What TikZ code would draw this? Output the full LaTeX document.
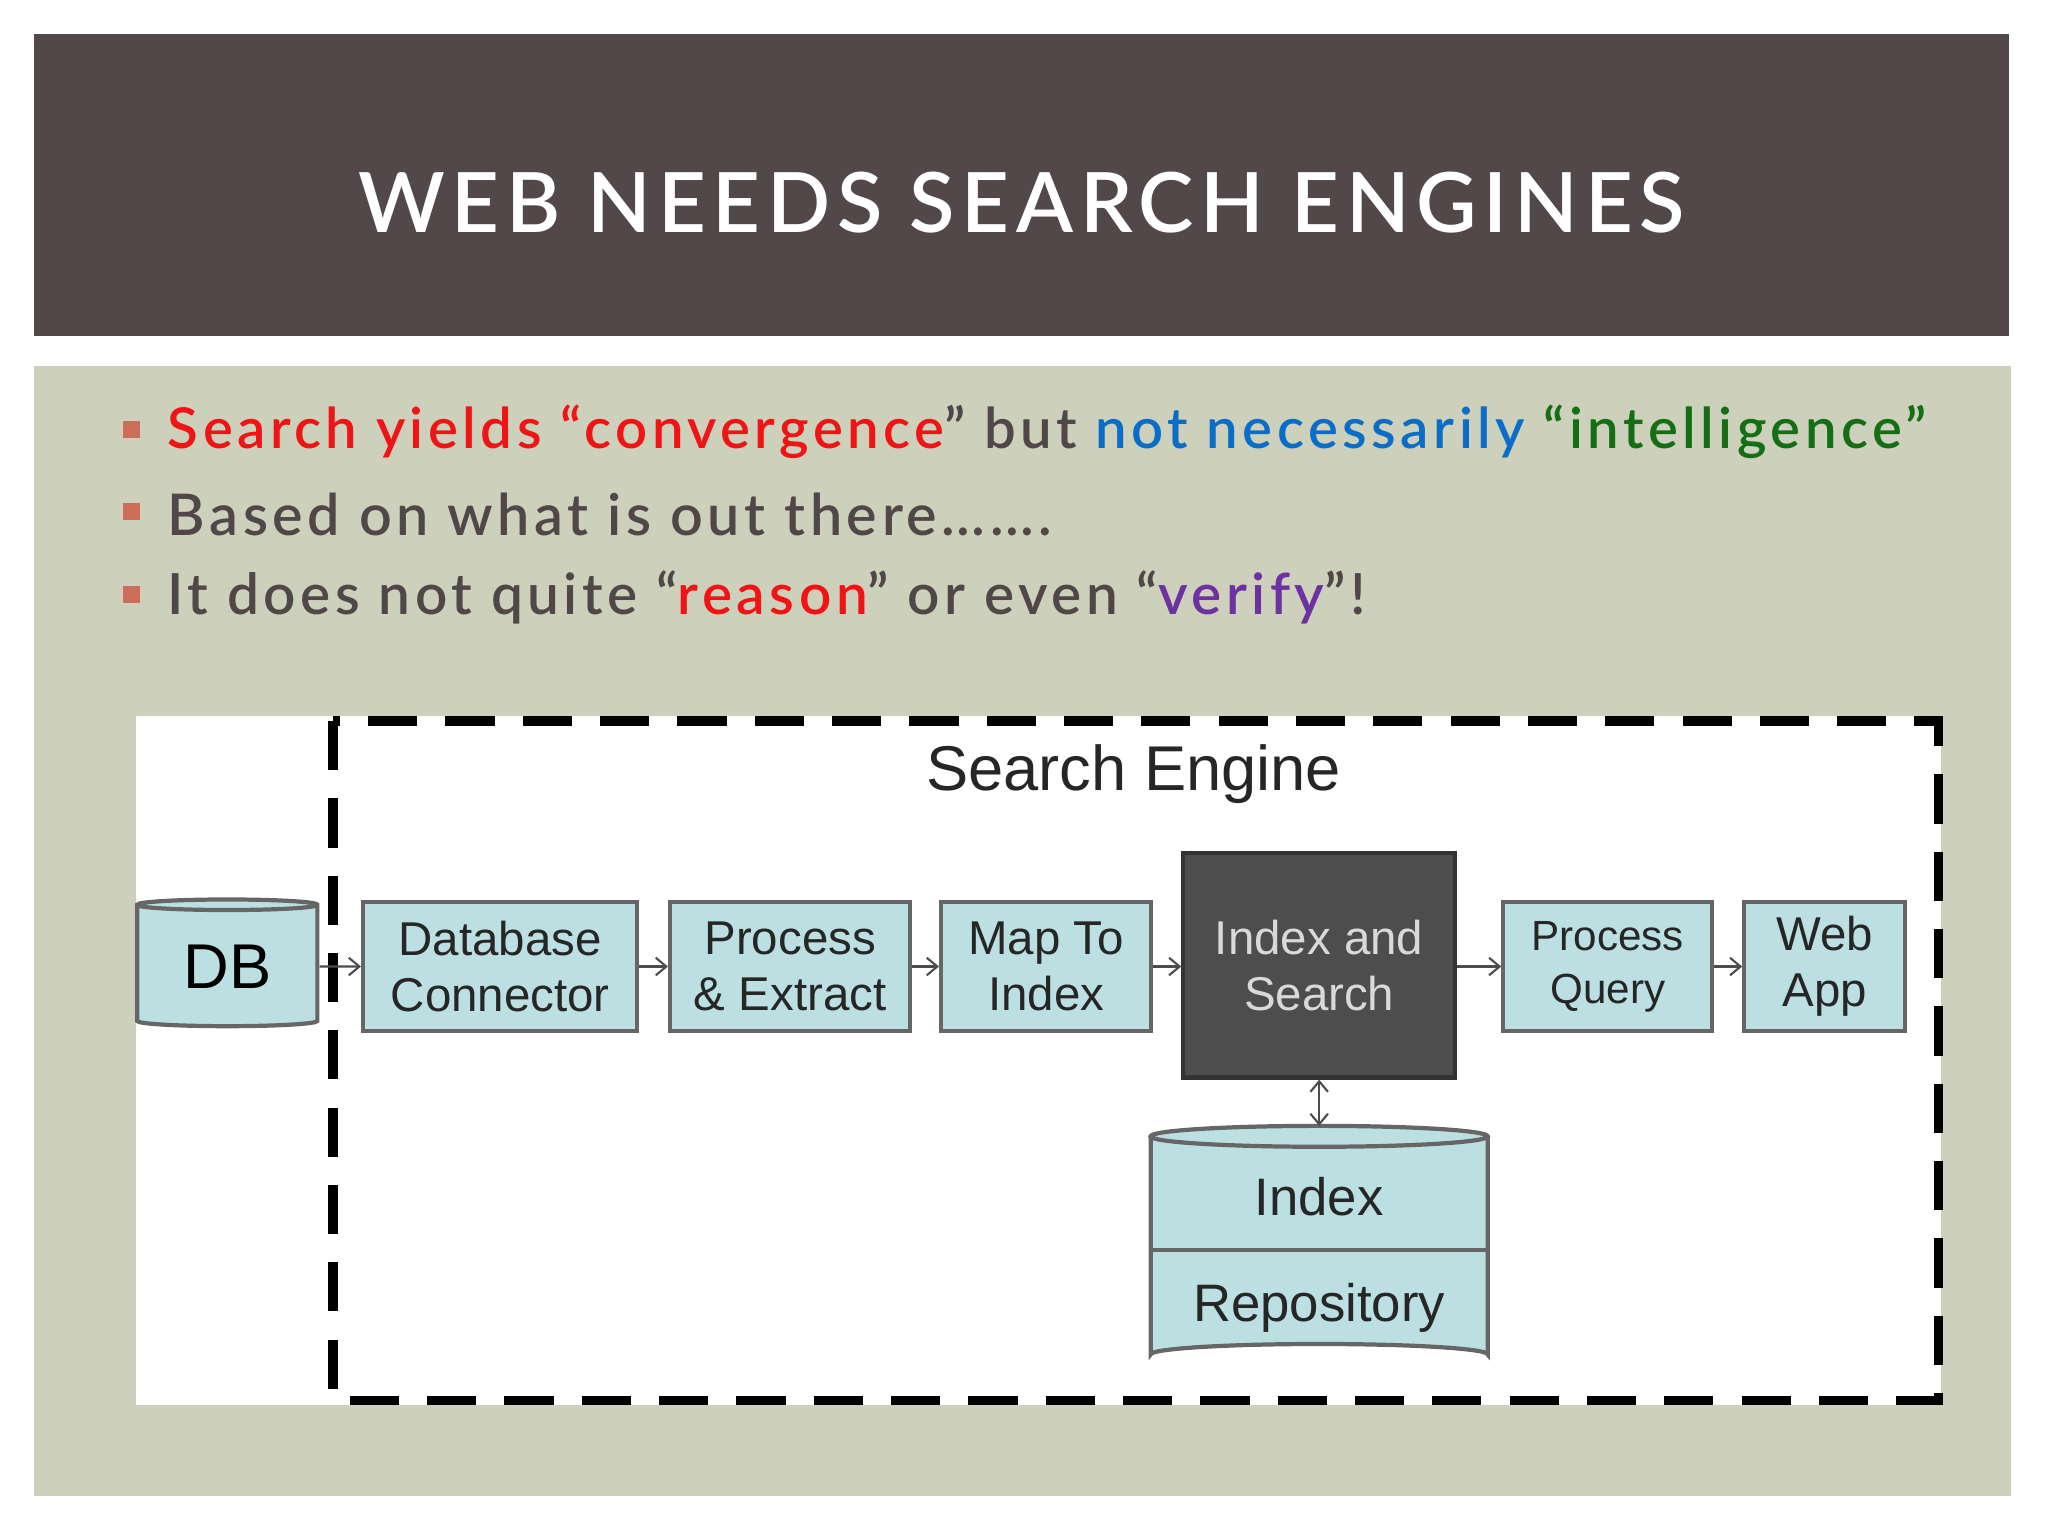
\documentclass[tikz,border=0pt]{standalone}
\usepackage{fontspec}
\setmainfont{Lato}
\newfontfamily\arialf{Liberation Sans}
\newfontfamily\titlef[LetterSpace=8]{Lato Semibold}
\newfontfamily\bulf[LetterSpace=8]{Lato Semibold}
\usetikzlibrary{shapes.geometric,arrows.meta}
\definecolor{titlebg}{RGB}{82,72,73}
\definecolor{panel}{RGB}{205,208,186}
\definecolor{boxc}{RGB}{188,224,226}
\definecolor{darkbox}{RGB}{77,77,77}
\definecolor{bul}{RGB}{205,110,90}
\definecolor{txt}{RGB}{80,72,72}
\definecolor{cred}{RGB}{240,20,20}
\definecolor{cblue}{RGB}{10,110,200}
\definecolor{cgreen}{RGB}{20,110,20}
\definecolor{cpurple}{RGB}{110,50,160}
\begin{document}
\begin{tikzpicture}[x=0.01306cm,y=-0.01306cm,
  box/.style={draw=black!60,line width=1.2pt,fill=boxc,font=\arialf\fontsize{13.5}{16}\selectfont,align=center,inner sep=0pt,text=black!85},
  cyl/.style={cylinder,shape border rotate=90,draw=black!60,line width=1.2pt,fill=boxc,aspect=0.12,inner sep=0pt},
  arr/.style={-{Straight Barb[length=3pt,width=5pt]},line width=0.6pt,black!70},
  bsq/.style={fill=bul,minimum size=0.17cm,inner sep=0pt}]
\useasboundingbox (0,0) rectangle (1568,1176);
\fill[white] (0,0) rectangle (1568,1176);
\fill[titlebg] (26,26) rectangle (1538,257);
\node[text=white,font=\titlef\fontsize{24}{28}\selectfont] (title) at (782,155) {\resizebox{13.26cm}{!}{WEB NEEDS SEARCH ENGINES}};
\fill[panel] (26,280) rectangle (1540,1145);
\node[bsq] (b1) at (101,329) {};
\node[bsq] (b2) at (101,392) {};
\node[bsq] (b3) at (101,455) {};
\tikzset{bt/.style={anchor=west,inner sep=0pt,font=\bulf\fontsize{16}{20}\selectfont,text=txt}}
\node[bt] (t1) at (128,331) {\resizebox{17.59cm}{!}{\textcolor{cred}{Search yields “convergence}” but \textcolor{cblue}{not necessarily} \textcolor{cgreen}{“intelligence”}}};
\node[bt] (t2) at (128,394) {\resizebox{8.84cm}{!}{Based on what is out there…….}};
\node[bt] (t3) at (128,457) {\resizebox{11.98cm}{!}{It does not quite “\textcolor{cred}{reason}” or even “\textcolor{cpurple}{verify}”!}};
\fill[white] (104,548) rectangle (1486,1076);
\draw[line width=2.6pt,dash pattern=on 14pt off 8pt] (255,552) rectangle (1484,1072);
\node[font=\arialf\fontsize{18}{22}\selectfont,text=black!85] (se) at (868,593) {Search Engine};
\node[cyl,minimum width=138*0.01306cm,minimum height=97*0.01306cm,font=\arialf\fontsize{18}{20}\selectfont] (db) at (174,740) {DB};
\node[box,minimum width=210*0.01306cm,minimum height=99*0.01306cm] (dc) at (383,740) {Database\\Connector};
\node[box,minimum width=184*0.01306cm,minimum height=99*0.01306cm] (pe) at (605,740) {Process\\\& Extract};
\node[box,minimum width=161*0.01306cm,minimum height=99*0.01306cm] (mi) at (801,740) {Map To\\Index};
\node[box,fill=darkbox,draw=black!80,text=black!15,minimum width=208*0.01306cm,minimum height=172*0.01306cm] (is) at (1010,739) {Index and\\Search};
\node[box,minimum width=160*0.01306cm,minimum height=99*0.01306cm,font=\arialf\fontsize{12}{15}\selectfont] (pq) at (1231,740) {Process\\Query};
\node[box,minimum width=123*0.01306cm,minimum height=99*0.01306cm] (wa) at (1397,740) {Web\\App};
% index repository cylinder
\coordinate (irtop) at (1010,862);
\fill[boxc] (881,870) -- (881,1037) arc[start angle=180,end angle=360,x radius=129,y radius=8] -- (1139,870) -- cycle;
\draw[black!60,line width=1.2pt,fill=boxc] (1010,870) ellipse[x radius=129,y radius=8];
\draw[black!60,line width=1.2pt] (881,870) -- (881,1037) arc[start angle=180,end angle=360,x radius=129,y radius=8] -- (1139,870);
\draw[black!60,line width=1.2pt] (881,957) -- (1139,957);
\node[font=\arialf\fontsize{15}{18}\selectfont,text=black!85] (irt1) at (1010,916) {Index};
\node[font=\arialf\fontsize{15}{18}\selectfont,text=black!85] (irt2) at (1010,1001) {Repository};
\draw[arr] (db) -- (dc);
\draw[arr] (dc) -- (pe);
\draw[arr] (pe) -- (mi);
\draw[arr] (mi) -- (is.west |- mi.east);
\draw[arr] (is.east |- pq.west) -- (pq);
\draw[arr] (pq) -- (wa);
\draw[{Straight Barb[length=3pt,width=5pt]}-{Straight Barb[length=3pt,width=5pt]},line width=0.6pt,black!70] (is.south) -- (irtop);
\end{tikzpicture}
\end{document}
